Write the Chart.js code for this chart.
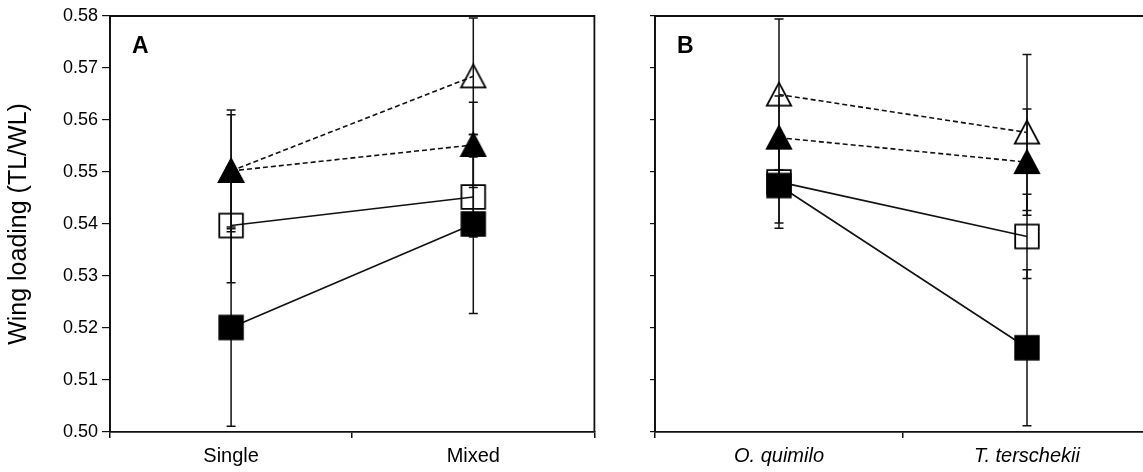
<!DOCTYPE html>
<html>
<head>
<meta charset="utf-8">
<script src="https://cdn.jsdelivr.net/npm/chart.js@4.4.0/dist/chart.umd.min.js"></script>
<style>
  html, body { margin: 0; padding: 0; background: #fff; overflow: hidden; width: 1143px; height: 472px; }
  .wrap { position: absolute; top: 0; height: 472px; }
  #wa { left: 0; width: 610px; }
  #wb { left: 610px; width: 560px; }
</style>
</head>
<body>
<div class="wrap" id="wa"><canvas id="ca" width="610" height="472"></canvas></div>
<div class="wrap" id="wb"><canvas id="cb" width="560" height="472"></canvas></div>
<script>
// ---- data ----
const categoriesA = ['Single', 'Mixed'];
const categoriesB = ['O. quimilo', 'T. terschekii'];
const yTicks = [0.50, 0.51, 0.52, 0.53, 0.54, 0.55, 0.56, 0.57, 0.58];

const openTriA    = [0.5502, 0.5684];
const openTriErrA = [0.0108, 0.0112];
const fillTriA    = [0.5502, 0.5552];
const fillTriErrA = [0.0117, 0.0082];
const openSqA     = [0.5397, 0.5452];
const openSqErrA  = [0.0110, 0.0077];
const fillSqA     = [0.5201, 0.5400];
const fillSqErrA  = [0.0190, 0.0172];

const openTriB    = [0.5649, 0.5576];
const openTriErrB = [0.0145, 0.0150];
const fillTriB    = [0.5566, 0.5519];
const fillTriErrB = [0.0080, 0.0102];
const openSqB     = [0.5481, 0.5376];
const openSqErrB  = [0.0079, 0.0081];
const fillSqB     = [0.5474, 0.5162];
const fillSqErrB  = [0.0082, 0.0150];

// ---- marker images ----
function marker(shape, filled) {
  const c = document.createElement('canvas');
  c.width = 28; c.height = 28;
  const g = c.getContext('2d');
  g.lineWidth = 1.8;
  g.strokeStyle = '#000';
  g.fillStyle = '#000';
  g.beginPath();
  if (shape === 'tri') {
    g.moveTo(14, 2.2); g.lineTo(1.8, 25.2); g.lineTo(26.2, 25.2); g.closePath();
  } else {
    g.rect(2.2, 2.2, 23.6, 23.6);
  }
  if (filled) { g.fill(); g.stroke(); } else g.stroke();
  return c;
}
const mk = {
  openTri: marker('tri', false), fillTri: marker('tri', true),
  openSq: marker('sq', false), fillSq: marker('sq', true)
};

const FONT = "'Liberation Sans', Arial, sans-serif";
const INK = '#111';

function ds(data, err, style, dashed) {
  return {
    data: data, errors: err,
    pointStyle: mk[style], pointRadius: 14, pointHoverRadius: 14,
    borderColor: INK, borderWidth: 1.6, borderDash: dashed ? [5, 3] : [],
    backgroundColor: 'transparent', tension: 0, clip: false
  };
}

const errorBars = {
  id: 'errorBars',
  beforeDatasetsDraw(chart) {
    const ctx = chart.ctx, ys = chart.scales.y, xs = chart.scales.x;
    ctx.save();
    ctx.strokeStyle = INK; ctx.lineWidth = 1.5;
    chart.data.datasets.forEach(d => {
      d.data.forEach((v, i) => {
        const x = xs.getPixelForValue(i);
        const hi = ys.getPixelForValue(v + d.errors[i]);
        const lo = ys.getPixelForValue(v - d.errors[i]);
        ctx.beginPath();
        ctx.moveTo(x, hi); ctx.lineTo(x, lo);
        ctx.moveTo(x - 4.5, hi); ctx.lineTo(x + 4.5, hi);
        ctx.moveTo(x - 4.5, lo); ctx.lineTo(x + 4.5, lo);
        ctx.stroke();
      });
    });
    ctx.restore();
  }
};

function frame(letter, closeRight) {
  return {
    id: 'frame',
    afterDraw(chart) {
      const a = chart.chartArea, ctx = chart.ctx;
      ctx.save();
      ctx.strokeStyle = INK; ctx.lineWidth = 1.8;
      ctx.beginPath();
      ctx.moveTo(a.left, a.bottom); ctx.lineTo(a.left, a.top); ctx.lineTo(a.right, a.top);
      if (closeRight) ctx.lineTo(a.right, a.bottom);
      ctx.stroke();
      ctx.fillStyle = '#000';
      ctx.font = "bold 23px " + FONT;
      ctx.textBaseline = 'alphabetic';
      ctx.fillText(letter, a.left + 22, a.top + 37);
      ctx.restore();
    }
  };
}

function makeChart(id, cats, sets, opts) {
  return new Chart(document.getElementById(id), {
    type: 'line',
    data: { labels: cats, datasets: sets },
    plugins: [errorBars, frame(opts.letter, opts.closeRight)],
    options: {
      responsive: false, animation: false,
      events: [],
      layout: { padding: { left: 0, right: opts.padRight, top: 16, bottom: 0 } },
      plugins: { legend: { display: false }, tooltip: { enabled: false } },
      scales: {
        x: {
          type: 'category', offset: true,
          grid: { offset: true, drawOnChartArea: false, tickLength: 6, color: INK, lineWidth: 1.5 },
          border: { color: INK, width: 1.8 },
          ticks: { color: '#000', padding: 6, font: { family: FONT, size: 20, style: opts.italic ? 'italic' : 'normal' } },
          afterFit(s) { s.height = 40; }
        },
        y: {
          min: 0.50, max: 0.58,
          afterBuildTicks(s) { s.ticks = yTicks.map(v => ({ value: v })); },
          grid: { drawOnChartArea: false, tickLength: opts.tickLen, color: INK, lineWidth: 1.2 },
          border: { color: INK, width: 1.8 },
          ticks: {
            color: '#000', padding: 4,
            font: { family: FONT, size: 18 },
            callback: opts.showY ? (v => Number(v).toFixed(2)) : (() => '')
          },
          title: opts.showY ? {
            display: true, text: 'Wing loading (TL/WL)', color: '#000',
            font: { family: FONT, size: 25 }, padding: { top: 4, bottom: 0 }
          } : { display: false },
          afterFit(s) { s.width = opts.yWidth; }
        }
      }
    }
  });
}

makeChart('ca', categoriesA, [
  ds(fillSqA, fillSqErrA, 'fillSq', false),
  ds(fillTriA, fillTriErrA, 'fillTri', true),
  ds(openSqA, openSqErrA, 'openSq', false),
  ds(openTriA, openTriErrA, 'openTri', true)
], { letter: 'A', closeRight: true, padRight: 11, italic: false, showY: true, yWidth: 110, tickLen: 8 });

makeChart('cb', categoriesB, [
  ds(fillSqB, fillSqErrB, 'fillSq', false),
  ds(fillTriB, fillTriErrB, 'fillTri', true),
  ds(openSqB, openSqErrB, 'openSq', false),
  ds(openTriB, openTriErrB, 'openTri', true)
], { letter: 'B', closeRight: false, padRight: 19, italic: true, showY: false, yWidth: 45, tickLen: 5 });
</script>
</body>
</html>
